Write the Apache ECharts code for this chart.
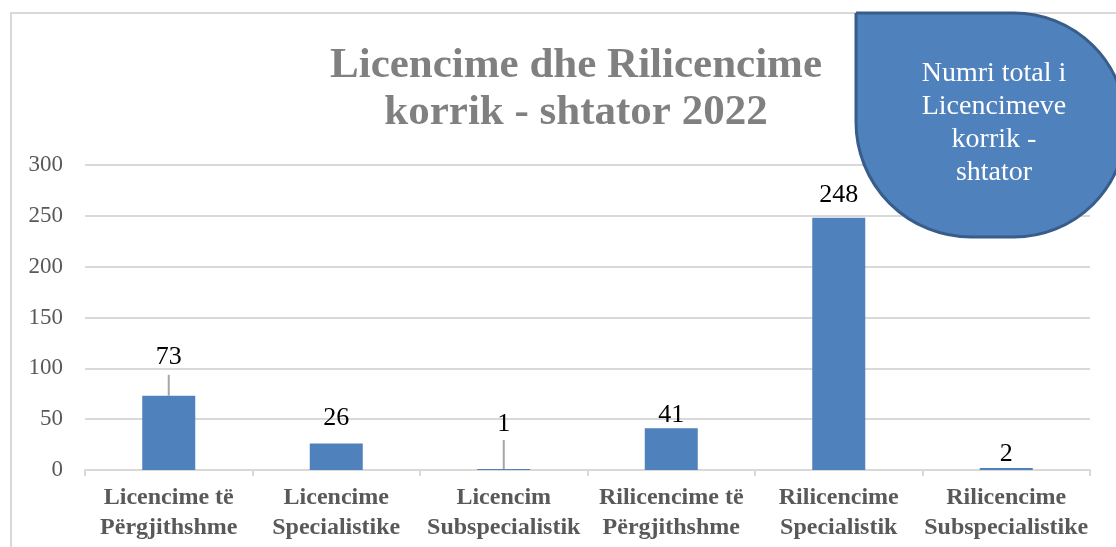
<!DOCTYPE html>
<html>
<head>
<meta charset="utf-8">
<script src="https://cdn.jsdelivr.net/npm/echarts@6/dist/echarts.min.js"></script>
<style>
  html, body { margin: 0; padding: 0; background: #fff; }
  #chart { width: 1116px; height: 547px; }
</style>
</head>
<body>
<div id="chart"></div>
<script>
// data
const categories = [
  "Licencime të\nPërgjithshme",
  "Licencime\nSpecialistike",
  "Licencim\nSubspecialistik",
  "Rilicencime të\nPërgjithshme",
  "Rilicencime\nSpecialistik",
  "Rilicencime\nSubspecialistike"
];
const values = [73, 26, 1, 41, 248, 2];
const yTicks = [0, 50, 100, 150, 200, 250, 300];

const titleText = "Licencime dhe Rilicencime\nkorrik - shtator 2022";
const calloutText = "Numri total i\nLicencimeve\nkorrik -\nshtator";

// how far above each bar the label sits (px), and leader line length (0 = none)
const labelGap = [26, 12, 32, 0, 10, 1];
const leaderLen = [21, 0, 29, 0, 0, 0];

const serif = "'Liberation Serif', 'Times New Roman', serif";
const myChart = echarts.init(document.getElementById("chart"));

const option = {
  backgroundColor: "#fff",
  animation: false,
  title: {
    text: titleText,
    left: 571,
    top: 37,
    textAlign: "center",
    textStyle: {
      fontFamily: serif,
      fontSize: 43,
      fontWeight: "bold",
      color: "#808080",
      lineHeight: 47
    }
  },
  grid: { left: 85, right: 26, top: 165, bottom: 77 },
  xAxis: {
    type: "category",
    data: categories,
    axisLine: { lineStyle: { color: "#d9d9d9", width: 2 } },
    axisTick: { show: true, length: 6, lineStyle: { color: "#d9d9d9", width: 2 } },
    axisLabel: {
      interval: 0,
      margin: 13,
      fontFamily: serif,
      fontSize: 24,
      fontWeight: "bold",
      color: "#595959",
      lineHeight: 30
    }
  },
  yAxis: {
    type: "value",
    min: yTicks[0],
    max: yTicks[yTicks.length - 1],
    interval: 50,
    axisLine: { show: false },
    axisTick: { show: false },
    splitLine: { lineStyle: { color: "#d9d9d9", width: 2 } },
    axisLabel: {
      margin: 22,
      fontFamily: serif,
      fontSize: 23,
      color: "#595959"
    }
  },
  series: [
    {
      type: "bar",
      barWidth: 53,
      itemStyle: { color: "#4F81BD" },
      data: values.map((v, i) => ({
        value: v,
        label: { distance: labelGap[i] }
      })),
      label: {
        show: true,
        position: "top",
        fontFamily: serif,
        fontSize: 26,
        color: "#000"
      }
    },
    {
      // leader lines from the bar top up toward the moved labels
      type: "custom",
      silent: true,
      z: 3,
      data: values.map((v, i) => [i, v]),
      renderItem: function (params, api) {
        const i = params.dataIndex;
        if (!leaderLen[i]) return null;
        const p = api.coord([api.value(0), api.value(1)]);
        return {
          type: "line",
          shape: { x1: p[0], y1: p[1], x2: p[0], y2: p[1] - leaderLen[i] },
          style: { stroke: "#a6a6a6", lineWidth: 2 }
        };
      }
    }
  ],
  graphic: [
    {
      type: "rect",
      z: -10,
      shape: { x: 11, y: 13, width: 1200, height: 600 },
      style: { fill: "none", stroke: "#d9d9d9", lineWidth: 2 }
    },
    {
      type: "rect",
      z: 100,
      shape: { x: 856, y: 13, width: 270, height: 224, r: [0, 115, 115, 115] },
      style: { fill: "#4F81BD", stroke: "#385D8A", lineWidth: 3 }
    },
    {
      type: "text",
      z: 101,
      x: 994,
      y: 123,
      style: {
        text: calloutText,
        fill: "#fff",
        font: "28px " + serif,
        lineHeight: 33,
        align: "center",
        verticalAlign: "middle"
      }
    }
  ]
};
myChart.setOption(option);
</script>
</body>
</html>
